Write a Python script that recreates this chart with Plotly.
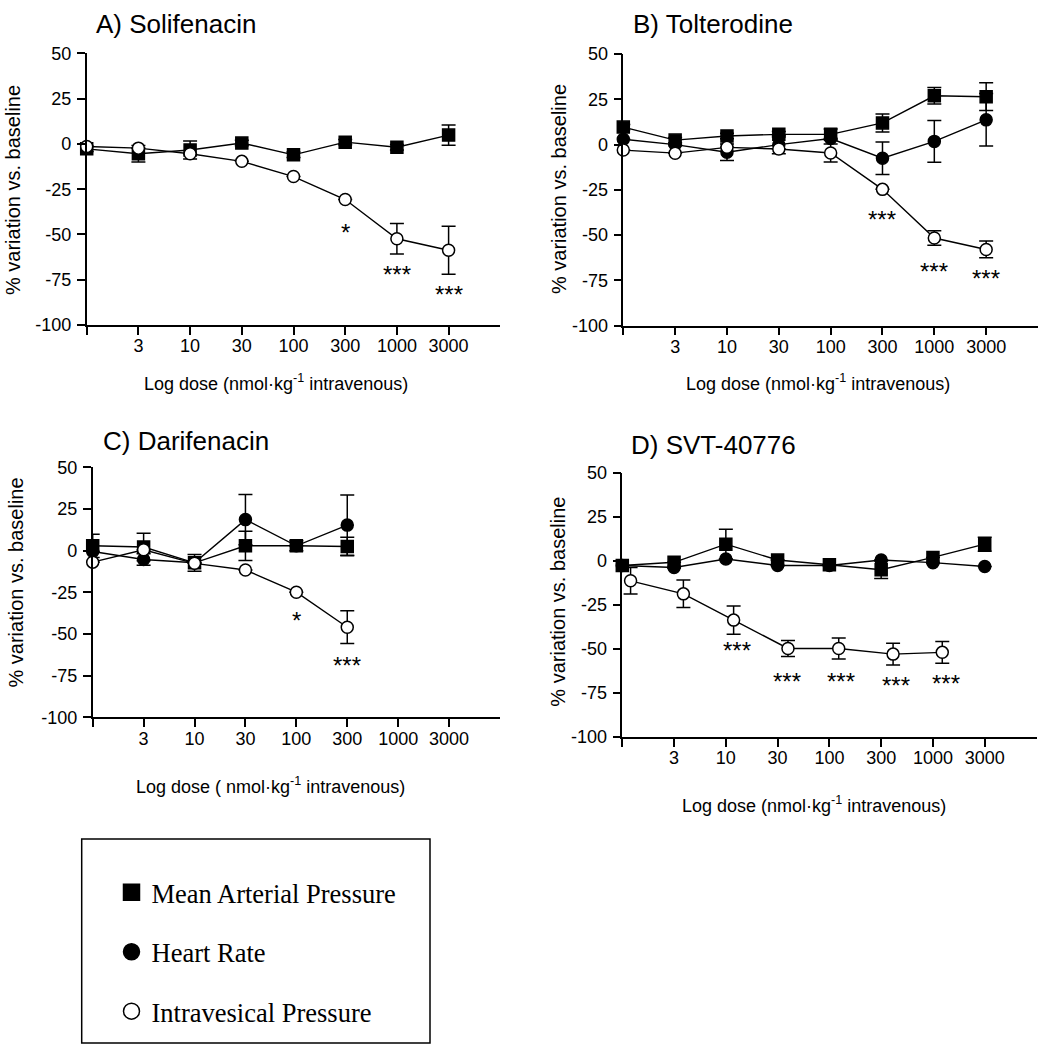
import plotly.graph_objects as go

W, H = 1039, 1064

# ---------------- data ----------------
DOSE_LABELS = ["", "3", "10", "30", "100", "300", "1000", "3000"]
DOSE_STEPS = [0, 1, 2, 3, 4, 5, 6, 7]
Y_TICKS = [-100, -75, -50, -25, 0, 25, 50]
Y_TICK_LABELS = ["-100", "-75", "-50", "-25", "0", "25", "50"]

# A) Solifenacin
a_x = [0, 1, 2, 3, 4, 5, 6, 7]
a_map = [-2.7, -5.4, -3.3, 0.5, -6.0, 1.0, -1.8, 4.9]
a_map_err = [1.5, 4.6, 5.0, 1.5, 1.5, 1.5, 1.5, 5.6]
a_ivp = [-1.4, -2.3, -5.4, -9.6, -18.0, -30.7, -52.4, -58.7]
a_ivp_err = [0, 0, 0, 0, 0, 0, 8.4, 13.3]
a_star_x = [5, 6, 7]
a_star_y = [-46.0, -69.6, -80.4]
a_star_t = ["*", "***", "***"]

# B) Tolterodine
b_x = [0, 1, 2, 3, 4, 5, 6, 7]
b_map = [9.7, 2.5, 4.8, 5.7, 5.7, 12.0, 27.0, 26.5]
b_map_err = [1.5, 1.5, 1.5, 1.5, 3.0, 5.0, 4.6, 7.7]
b_hr = [3.0, 0.0, -4.2, 0.0, 3.4, -7.5, 1.8, 13.7]
b_hr_err = [0, 0, 4.5, 5.0, 0, 9.0, 11.5, 14.5]
b_ivp = [-3.0, -4.7, -1.5, -2.4, -4.6, -24.7, -51.6, -57.9]
b_ivp_err = [0, 0, 0, 0, 5.0, 0, 4.0, 4.6]
b_star_x = [5, 6, 7]
b_star_y = [-38.6, -67.5, -71.1]
b_star_t = ["***", "***", "***"]

# C) Darifenacin
c_x = [0, 1, 2, 3, 4, 5]
c_map = [2.9, 2.2, -7.3, 2.9, 2.9, 2.5]
c_map_err = [7.0, 8.2, 5.0, 8.8, 3.0, 5.5]
c_hr = [-0.5, -5.3, -7.3, 18.6, 2.9, 15.3]
c_hr_err = [0, 3.4, 0, 15.0, 0, 18.0]
c_ivp = [-6.9, 0.5, -7.6, -11.6, -24.9, -45.9]
c_ivp_err = [0, 0, 0, 0, 0, 9.8]
c_star_x = [4, 5]
c_star_y = [-38.6, -66.0]
c_star_t = ["*", "***"]

# D) SVT-40776
d_x = [0, 1, 2, 3, 4, 5, 6, 7]
d_map = [-2.6, -0.8, 9.5, 0.5, -2.2, -5.0, 2.0, 9.5]
d_map_err = [0, 0, 8.5, 0, 0, 5.0, 0, 4.0]
d_hr = [-2.6, -3.7, 1.1, -2.6, -2.6, 0.5, -1.0, -3.2]
d_hr_err = [0, 0, 0, 0, 0, 0, 0, 0]
d_ivp_x = [0.16, 1.18, 2.15, 3.2, 4.18, 5.23, 6.18]
d_ivp = [-11.3, -18.7, -33.6, -49.7, -49.7, -52.9, -51.9]
d_ivp_err = [7.5, 7.8, 8.0, 4.5, 6.0, 6.2, 6.2]
d_star_x = [2.21, 3.18, 4.23, 5.28, 6.25]
d_star_y = [-48.2, -65.4, -65.4, -68.0, -66.9]
d_star_t = ["***", "***", "***", "***", "***"]

TITLES = ["A) Solifenacin", "B) Tolterodine", "C) Darifenacin", "D) SVT-40776"]
Y_TITLE = "% variation vs. baseline"
X_TITLES = [
    "Log dose (nmol·kg<sup>-1</sup> intravenous)",
    "Log dose (nmol·kg<sup>-1</sup> intravenous)",
    "Log dose ( nmol·kg<sup>-1</sup> intravenous)",
    "Log dose (nmol·kg<sup>-1</sup> intravenous)",
]
SERIES_NAMES = ["Mean Arterial Pressure", "Heart Rate", "Intravesical Pressure"]

# ---------------- layout helpers (pixels -> paper) ----------------
def px(x):
    return x / W

def py(y):
    return 1 - y / H

# plot boxes in pixels: (left, right, top(=50), bottom(=-100))
BOXES = [
    (86.7, 500.3, 44.3, 321.0),
    (623.3, 1038.0, 45.0, 321.7),
    (92.7, 500.0, 466.0, 721.0),
    (622.3, 1036.5, 471.7, 741.0),
]
TITLE_POS = [(94, 14), (630.7, 14), (100.7, 439), (629, 443.5)]
YT_POS = [(12.5, 184), (559, 182.5), (16, 583.5), (558.5, 603.5)]
XT_POS = [(276, 380), (818.5, 380), (270, 790), (814, 810)]

FONT = "Liberation Sans, Arial, sans-serif"
fig = go.Figure()

def add_series(idx, x, y, err, symbol, fill, name):
    xa = "x" if idx == 0 else f"x{idx + 1}"
    ya = "y" if idx == 0 else f"y{idx + 1}"
    fig.add_trace(go.Scatter(
        x=x, y=y, xaxis=xa, yaxis=ya, mode="lines+markers", name=name,
        showlegend=False, cliponaxis=False,
        line=dict(color="black", width=1.4),
        marker=dict(symbol=symbol, size=12, color=fill,
                    line=dict(color="black", width=1.5)),
        error_y=dict(type="data", array=err, visible=True, color="black",
                     thickness=1.5, width=7),
    ))

panels = [
    dict(series=[(a_x, a_map, a_map_err, "square", "black", SERIES_NAMES[0]),
                 (a_x, a_ivp, a_ivp_err, "circle", "white", SERIES_NAMES[2])],
         stars=(a_star_x, a_star_y, a_star_t)),
    dict(series=[(b_x, b_map, b_map_err, "square", "black", SERIES_NAMES[0]),
                 (b_x, b_hr, b_hr_err, "circle", "black", SERIES_NAMES[1]),
                 (b_x, b_ivp, b_ivp_err, "circle", "white", SERIES_NAMES[2])],
         stars=(b_star_x, b_star_y, b_star_t)),
    dict(series=[(c_x, c_map, c_map_err, "square", "black", SERIES_NAMES[0]),
                 (c_x, c_hr, c_hr_err, "circle", "black", SERIES_NAMES[1]),
                 (c_x, c_ivp, c_ivp_err, "circle", "white", SERIES_NAMES[2])],
         stars=(c_star_x, c_star_y, c_star_t)),
    dict(series=[(d_x, d_map, d_map_err, "square", "black", SERIES_NAMES[0]),
                 (d_x, d_hr, d_hr_err, "circle", "black", SERIES_NAMES[1]),
                 (d_ivp_x, d_ivp, d_ivp_err, "circle", "white", SERIES_NAMES[2])],
         stars=(d_star_x, d_star_y, d_star_t)),
]

annotations = []
layout_axes = {}
for i, p in enumerate(panels):
    for s in p["series"]:
        add_series(i, *s)
    l, r, t, b = BOXES[i]
    xk = "xaxis" if i == 0 else f"xaxis{i + 1}"
    yk = "yaxis" if i == 0 else f"yaxis{i + 1}"
    xa = "x" if i == 0 else f"x{i + 1}"
    ya = "y" if i == 0 else f"y{i + 1}"
    layout_axes[xk] = dict(
        domain=[px(l), px(r)], anchor=ya, range=[0, 8],
        tickmode="array", tickvals=DOSE_STEPS, ticktext=DOSE_LABELS,
        showline=True, linecolor="black", linewidth=1.5,
        ticks="outside", ticklen=8, tickwidth=1.5, tickcolor="black",
        showgrid=False, zeroline=False, ticklabelstandoff=-4,
        tickfont=dict(family=FONT, size=18, color="black"),
    )
    layout_axes[yk] = dict(
        domain=[py(b), py(t)], anchor=xa, range=[-100, 50],
        tickmode="array", tickvals=Y_TICKS, ticktext=Y_TICK_LABELS,
        showline=True, linecolor="black", linewidth=1.5,
        ticks="outside", ticklen=8, tickwidth=1.5, tickcolor="black",
        showgrid=False, zeroline=False, ticklabelstandoff=2,
        tickfont=dict(family=FONT, size=18, color="black"),
    )
    sx, sy, st = p["stars"]
    for x, y, tx in zip(sx, sy, st):
        annotations.append(dict(x=x, y=y, xref=xa, yref=ya, text=tx,
                                showarrow=False, yshift=-5,
                                font=dict(family=FONT, size=24, color="black")))
    tx_, ty_ = TITLE_POS[i]
    annotations.append(dict(x=px(tx_), y=py(ty_), xref="paper", yref="paper",
                            text=TITLES[i], showarrow=False, xanchor="left",
                            yanchor="middle",
                            font=dict(family=FONT, size=26, color="black")))
    yx, yy = YT_POS[i]
    annotations.append(dict(x=px(yx), y=py(yy), xref="paper", yref="paper",
                            text=Y_TITLE, showarrow=False, textangle=-90,
                            xanchor="center", yanchor="middle",
                            font=dict(family=FONT, size=20, color="black")))
    xx, xy = XT_POS[i]
    annotations.append(dict(x=px(xx), y=py(xy), xref="paper", yref="paper",
                            text=X_TITLES[i], showarrow=False,
                            xanchor="center", yanchor="middle",
                            font=dict(family=FONT, size=18, color="black")))

# legend-only traces
for name, sym, fill in zip(SERIES_NAMES, ["square", "circle", "circle"],
                           ["black", "black", "white"]):
    fig.add_trace(go.Scatter(
        x=[None], y=[None], mode="markers", name=name, showlegend=True,
        legendgroup=name,
        marker=dict(symbol=sym, size=16, color=fill,
                    line=dict(color="black", width=1.5)),
    ))

fig.update_layout(
    width=W, height=H,
    margin=dict(l=0, r=0, t=0, b=0),
    paper_bgcolor="white", plot_bgcolor="white",
    annotations=annotations,
    shapes=[dict(type="rect", xref="paper", yref="paper",
                 x0=px(81.7), x1=px(430), y0=py(1052.7), y1=py(845),
                 line=dict(color="black", width=1.5))],
    legend=dict(x=px(111.5), y=py(875), xanchor="left", yanchor="top",
                bgcolor="rgba(0,0,0,0)", borderwidth=0,
                tracegroupgap=22, itemsizing="trace",
                font=dict(family="Liberation Serif, Times New Roman, serif",
                          size=26.5, color="black")),
    **layout_axes,
)

fig.write_html("out.html", config={"displayModeBar": False},
               post_script="document.body.style.margin='0';document.body.style.overflow='hidden';")
